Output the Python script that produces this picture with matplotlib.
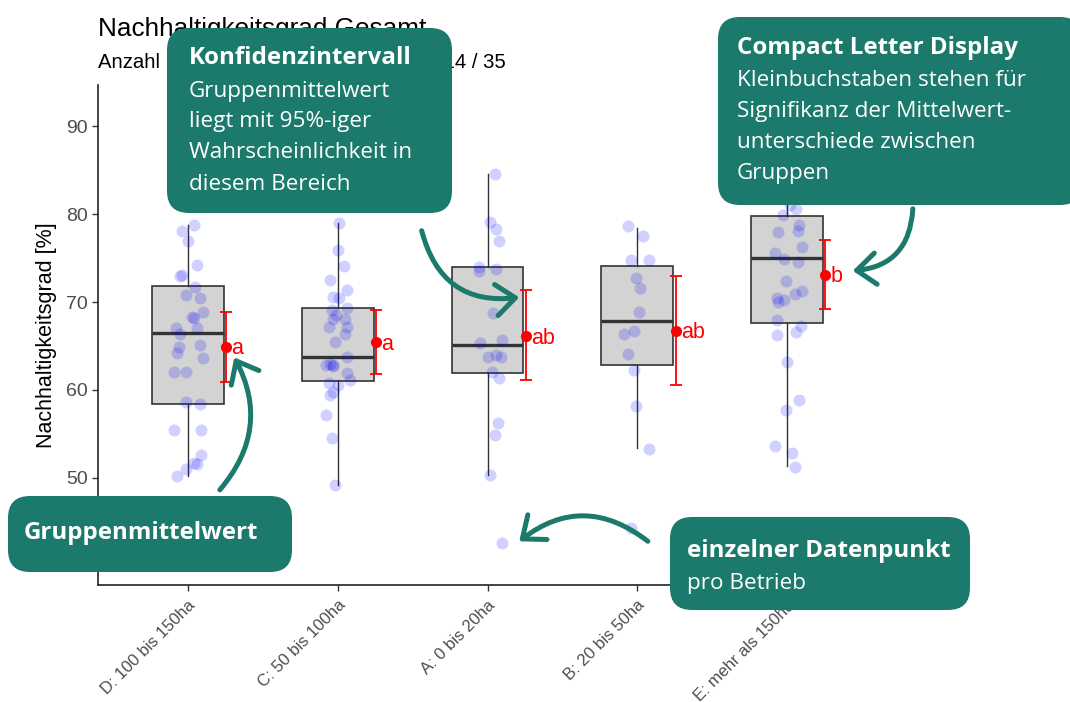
import matplotlib
matplotlib.use("Agg")
import matplotlib.pyplot as plt
from matplotlib.patches import FancyBboxPatch, FancyArrowPatch

# groups in plotting order
groups = ["D: 100 bis 150ha", "C: 50 bis 100ha", "A: 0 bis 20ha", "B: 20 bis 50ha", "E: mehr als 150ha"]

# box statistics
whislo = [50.2, 49.2, 50.3, 53.4, 51.4]
q1 = [58.4, 61.0, 61.9, 62.8, 67.6]
med = [66.5, 63.8, 65.1, 67.8, 75.0]
q3 = [71.8, 69.3, 74.0, 74.1, 79.8]
whishi = [78.8, 79.0, 84.5, 78.4, 82.0]

# group means with 95% confidence intervals and letters
means = [64.9, 65.4, 66.1, 66.7, 73.1]
ci_low = [60.9, 61.8, 61.1, 60.6, 69.2]
ci_high = [68.9, 69.1, 71.4, 72.9, 77.0]
letters = ["a", "a", "ab", "ab", "b"]

# single farms per group
vals_d = [78.1, 78.75, 76.9, 74.2, 73.1, 73.0, 71.7, 70.8, 70.4, 68.9, 68.3, 68.2, 67.0, 66.4, 67.0,
          64.9, 64.2, 65.1, 63.6, 62.1, 62.1, 58.6, 58.4, 55.5, 55.5, 52.6, 51.7, 51.6, 51.0, 50.2]
vals_c = [79.0, 75.9, 74.1, 72.5, 71.4, 70.6, 70.4, 69.3, 69.1, 68.5, 68.1, 68.1, 67.2, 67.2, 66.4,
          65.5, 63.8, 63.0, 62.8, 62.8, 62.7, 61.9, 61.1, 60.8, 60.6, 59.8, 59.4, 57.2, 54.5, 49.2]
vals_a = [84.5, 79.1, 78.3, 76.9, 74.0, 73.8, 73.5, 68.7, 65.3, 65.7, 63.8, 64.0, 63.8, 62.1, 61.4,
          56.2, 54.9, 50.3, 42.6]
vals_b = [78.6, 77.5, 74.8, 74.8, 72.7, 71.6, 68.9, 66.4, 66.7, 64.1, 62.3, 58.2, 53.3, 44.3]
vals_e = [82.0, 81.0, 80.6, 79.9, 78.75, 78.0, 78.1, 76.2, 75.6, 74.9, 74.6, 72.4, 71.3, 70.9, 70.4,
          70.2, 70.0, 67.95, 67.3, 66.6, 66.25, 63.2, 58.9, 57.7, 53.6, 52.8, 51.3]

# horizontal jitter (category units) as seen in the picture
jit_d = [-0.04, 0.04, 0.0, 0.06, -0.04, -0.05, 0.05, -0.01, 0.08, 0.10, 0.03, 0.04, -0.08, -0.05, 0.06,
         -0.06, -0.07, 0.08, 0.10, -0.09, -0.01, -0.01, 0.08, -0.09, 0.09, 0.09, 0.04, 0.06, -0.01, -0.07]
jit_c = [0.01, 0.0, 0.04, -0.05, 0.06, -0.03, 0.01, 0.06, -0.04, -0.01, 0.05, -0.03, 0.06, -0.06, 0.05,
         -0.02, 0.06, -0.05, -0.03, -0.08, -0.03, 0.06, 0.08, -0.06, 0.0, -0.03, -0.05, -0.08, -0.04, -0.02]
jit_a = [0.05, 0.02, 0.06, 0.08, -0.06, 0.06, -0.06, 0.04, -0.05, 0.10, 0.0, 0.06, 0.09, 0.03, 0.08,
         0.07, 0.05, 0.02, 0.10]
jit_b = [-0.06, 0.04, -0.04, 0.08, -0.01, 0.02, 0.01, -0.09, -0.02, -0.06, -0.02, -0.01, 0.08, -0.04]
jit_e = [-0.03, 0.02, 0.06, -0.03, 0.08, -0.06, 0.07, 0.10, -0.08, -0.02, 0.07, -0.01, 0.10, 0.05, -0.07,
         -0.02, -0.06, -0.07, 0.09, 0.06, -0.07, 0.0, 0.08, -0.01, -0.08, 0.03, 0.05]

title = "Nachhaltigkeitsgrad Gesamt"
subtitle = "Anzahl Betriebe/Gruppe: 30 / 30 / 19 / 14 / 35"
ylabel = "Nachhaltigkeitsgrad [%]"

TEAL = "#1b7a6b"
GREY = "#4d4d4d"

fig = plt.figure(figsize=(10.7, 7.02), dpi=100)
ax = fig.add_axes([98 / 1070, 1 - 585 / 702, (877 - 98) / 1070, (585 - 85) / 702])

pos = list(range(1, len(groups) + 1))
stats = []
for i in range(len(groups)):
    stats.append(dict(whislo=whislo[i], q1=q1[i], med=med[i], q3=q3[i], whishi=whishi[i], fliers=[]))
ax.bxp(stats, positions=pos, widths=0.48, showfliers=False, showcaps=False, patch_artist=True,
       boxprops=dict(facecolor="#d3d3d3", edgecolor="#333333", linewidth=1.2),
       medianprops=dict(color="#333333", linewidth=2.4),
       whiskerprops=dict(color="#333333", linewidth=1.0), zorder=2)

all_vals = [vals_d, vals_c, vals_a, vals_b, vals_e]
all_jit = [jit_d, jit_c, jit_a, jit_b, jit_e]
for p, v, j in zip(pos, all_vals, all_jit):
    ax.scatter([p + dx for dx in j], v, s=75, color="blue", alpha=0.18, linewidths=0, zorder=3)

off = 0.255
xm = [p + off for p in pos]
yerr = [[m - lo for m, lo in zip(means, ci_low)], [hi - m for m, hi in zip(means, ci_high)]]
ax.errorbar(xm, means, yerr=yerr, fmt="o", color="red", ms=7, elinewidth=1.3, capsize=4,
            capthick=1.3, zorder=4)
for x, m, l in zip(xm, means, letters):
    ax.text(x + 0.035, m - 0.2, l, color="red", fontsize=15.5, va="center", ha="left",
            family="Liberation Sans", zorder=4)

ax.set_xlim(0.4, 5.6)
ax.set_ylim(37.84, 94.66)
ax.set_yticks([40, 50, 60, 70, 80, 90])
ax.set_xticks(pos)
ax.set_xticklabels(groups, rotation=45, ha="right", va="top", rotation_mode="anchor",
                   fontsize=12, color=GREY, family="Liberation Sans")
for t in ax.get_yticklabels():
    t.set_fontsize(14)
    t.set_color(GREY)
    t.set_family("Liberation Sans")
ax.set_ylabel(ylabel, fontsize=15.5, family="Liberation Sans", labelpad=6)
ax.tick_params(length=4, width=1, color="#333333")
ax.tick_params(axis="x", pad=5)
for s in ["top", "right"]:
    ax.spines[s].set_visible(False)
for s in ["left", "bottom"]:
    ax.spines[s].set_linewidth(1.2)
    ax.spines[s].set_color("#222222")

fig.text(98 / 1070, 1 - 29 / 702, title, fontsize=18.8, family="Liberation Sans", va="center")
sub = fig.text(98 / 1070, 1 - 62 / 702, subtitle, fontsize=15, family="Liberation Sans", va="center")
# fit the subtitle so that its end lands where the reference shows it
fig.canvas.draw()
w = sub.get_window_extent().width
sub.set_fontsize(15 * (506 - 98) / w)

# annotation overlay in pixel coordinates
ov = fig.add_axes([0, 0, 1, 1], zorder=10)
ov.set_xlim(0, 1070)
ov.set_ylim(702, 0)
ov.axis("off")
ov.patch.set_alpha(0)

FONT = "Open Sans"


def callout(x0, y0, x1, y1, head, lines, tx, ty, hsize=17.4, bsize=16.2, step=31):
    ov.add_patch(FancyBboxPatch((x0, y0), x1 - x0, y1 - y0,
                                boxstyle="round,pad=0,rounding_size=22",
                                facecolor=TEAL, edgecolor="none"))
    ov.text(tx, ty, head, color="white", fontsize=hsize, fontweight="bold", family=FONT,
            va="center", ha="left")
    for k, line in enumerate(lines):
        ov.text(tx, ty + step * (k + 1) + 2, line, color="white", fontsize=bsize, family=FONT,
                va="center", ha="left")


callout(167, 28, 452, 213, "Konfidenzintervall",
        ["Gruppenmittelwert", "liegt mit 95%-iger", "Wahrscheinlichkeit in", "diesem Bereich"], 189, 58)
callout(718, 17, 1082, 205, "Compact Letter Display",
        ["Kleinbuchstaben stehen für", "Signifikanz der Mittelwert-", "unterschiede zwischen", "Gruppen"],
        737, 48)
callout(8, 496, 292, 572, "Gruppenmittelwert", [], 24, 533)
callout(670, 517, 970, 610, "einzelner Datenpunkt", ["pro Betrieb"], 687, 551)


def arrow(p0, p1, rad):
    ov.add_patch(FancyArrowPatch(p0, p1, connectionstyle=f"arc3,rad={rad}",
                                 arrowstyle="->,head_length=0.55,head_width=0.45",
                                 mutation_scale=25, color=TEAL, lw=3.6, capstyle="round",
                                 joinstyle="round"))


arrow((421, 228), (522, 297), 0.45)
arrow((913, 206), (850, 271), -0.45)
arrow((218, 492), (233, 355), 0.35)
arrow((650, 543), (517, 543), 0.4)

fig.savefig("out.png", dpi=100)
